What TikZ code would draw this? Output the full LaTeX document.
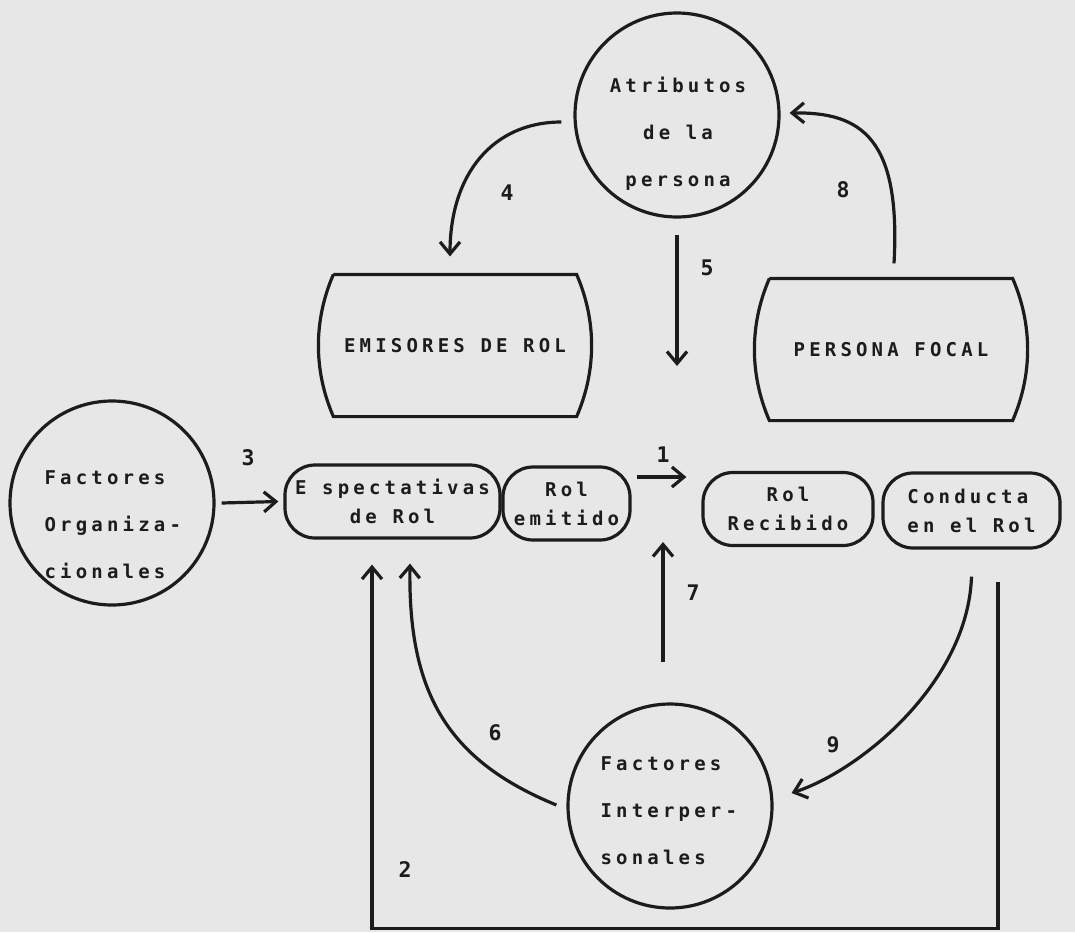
\documentclass[tikz,border=0pt]{standalone}
\usepackage{fontspec}
\usetikzlibrary{arrows.meta}
\newfontfamily\typefont[LetterSpace=22]{DejaVu Sans Mono}
\newfontfamily\numfont{DejaVu Sans Mono}
\definecolor{mypaper}{RGB}{231,231,231}
\definecolor{myink}{RGB}{28,28,28}

\begin{document}
\begin{tikzpicture}[x=1pt,y=-1pt,line width=3.2pt,color=myink,
  bubble/.style={circle,draw,minimum size=204pt,inner sep=0pt},
  words/.style={inner sep=0pt,font=\typefont\bfseries\fontsize{19pt}{47pt}\selectfont},
  pill/.style={draw,rounded corners=30pt,minimum height=73pt,inner sep=2pt,align=center,
    font=\typefont\bfseries\fontsize{19pt}{29pt}\selectfont},
  cask/.style={minimum width=240pt,minimum height=139pt,inner sep=0pt,
    font=\typefont\bfseries\fontsize{19pt}{29pt}\selectfont},
  num/.style={inner sep=1pt,font=\numfont\bfseries\fontsize{21.5pt}{22pt}\selectfont},
  arr/.style={-{Straight Barb[length=12pt,width=20pt]}}]
\useasboundingbox (0,0) rectangle (1075,932);
\fill[mypaper] (0,0) rectangle (1075,932);
% circles
\node[bubble] (atrib)  at (677,115) {};
\node[bubble] (org)    at (112,503) {};
\node[bubble] (interp) at (670,806) {};
\node[words,align=center] (atribtxt) at (678,134) {Atributos\\de la\\persona};
\node[words,align=left,anchor=west] (orgtxt) at (43,525) {Factores\\Organiza-\\cionales};
\node[words,align=left,anchor=west] (interptxt) at (599,811) {Factores\\Interper-\\sonales};
% barrels
\node[cask] (emisores) at (455,345.5) {EMISORES DE ROL};
\node[cask] (focal)    at (891,349.5) {PERSONA FOCAL};
\foreach \b in {emisores,focal}
  \draw (\b.north west) -- (\b.north east)
     .. controls +(20,46) and +(20,-46) .. (\b.south east) -- (\b.south west)
     .. controls +(-20,-46) and +(-20,46) .. (\b.north west);
% pills
\node[pill,minimum width=215pt] (espect)   at (392.5,501.5) {E spectativas\\de Rol};
\node[pill,minimum width=127pt] (emitido)  at (566.5,503.5) {Rol\\emitido};
\node[pill,minimum width=170pt] (recibido) at (788,509)     {Rol\\Recibido};
\node[pill,minimum width=177pt,minimum height=75pt,align=left] (conduct) at (971.5,510.5) {Conducta\\en el Rol};
% free ends
\coordinate (c5)  at (677,366);
\coordinate (c7a) at (663,662);
\coordinate (c7b) at (663,542);
% connectors
\draw[arr] ([xshift=5pt,yshift=26.5pt]emitido.east) -- ([xshift=-15pt,yshift=32pt]recibido.west);
\draw[arr] ([xshift=26.5pt,yshift=-32pt]conduct.south) -- ++(0,347) -| ([xshift=-20.5pt,yshift=-25pt]espect.south);
\draw[arr] ([xshift=6pt]org.east) -- ([xshift=-5pt]espect.west);
\draw[arr] ([xshift=-12pt,yshift=-7pt]atrib.west) .. controls +(-68,0) and +(0,-83) .. ([xshift=-5pt,yshift=18pt]emisores.north);
\draw[arr] ([yshift=-16pt]atrib.south) -- (c5);
\draw[arr] ([xshift=-10pt,yshift=1pt]interp.west) .. controls +(-110,-45) and +(-2,128) .. ([xshift=17.5pt,yshift=-24pt]espect.south);
\draw[arr] (c7a) -- (c7b);
\draw[arr] ([xshift=3pt,yshift=15pt]focal.north) .. controls +(7,-125) and +(72,-1) .. ([xshift=9pt,yshift=2pt]atrib.east);
\draw[arr] ([yshift=-27pt]conduct.south) .. controls +(-3.5,105) and +(70,-23) .. ([xshift=18pt,yshift=13pt]interp.east);
% numbers
\node[num] (n1) at (663,455) {1};
\node[num] (n2) at (405,870) {2};
\node[num] (n3) at (248,458) {3};
\node[num] (n4) at (507,193) {4};
\node[num] (n5) at (707,268) {5};
\node[num] (n6) at (495,733) {6};
\node[num] (n7) at (693,593) {7};
\node[num] (n8) at (843,190) {8};
\node[num] (n9) at (833,745) {9};
\end{tikzpicture}
\end{document}
